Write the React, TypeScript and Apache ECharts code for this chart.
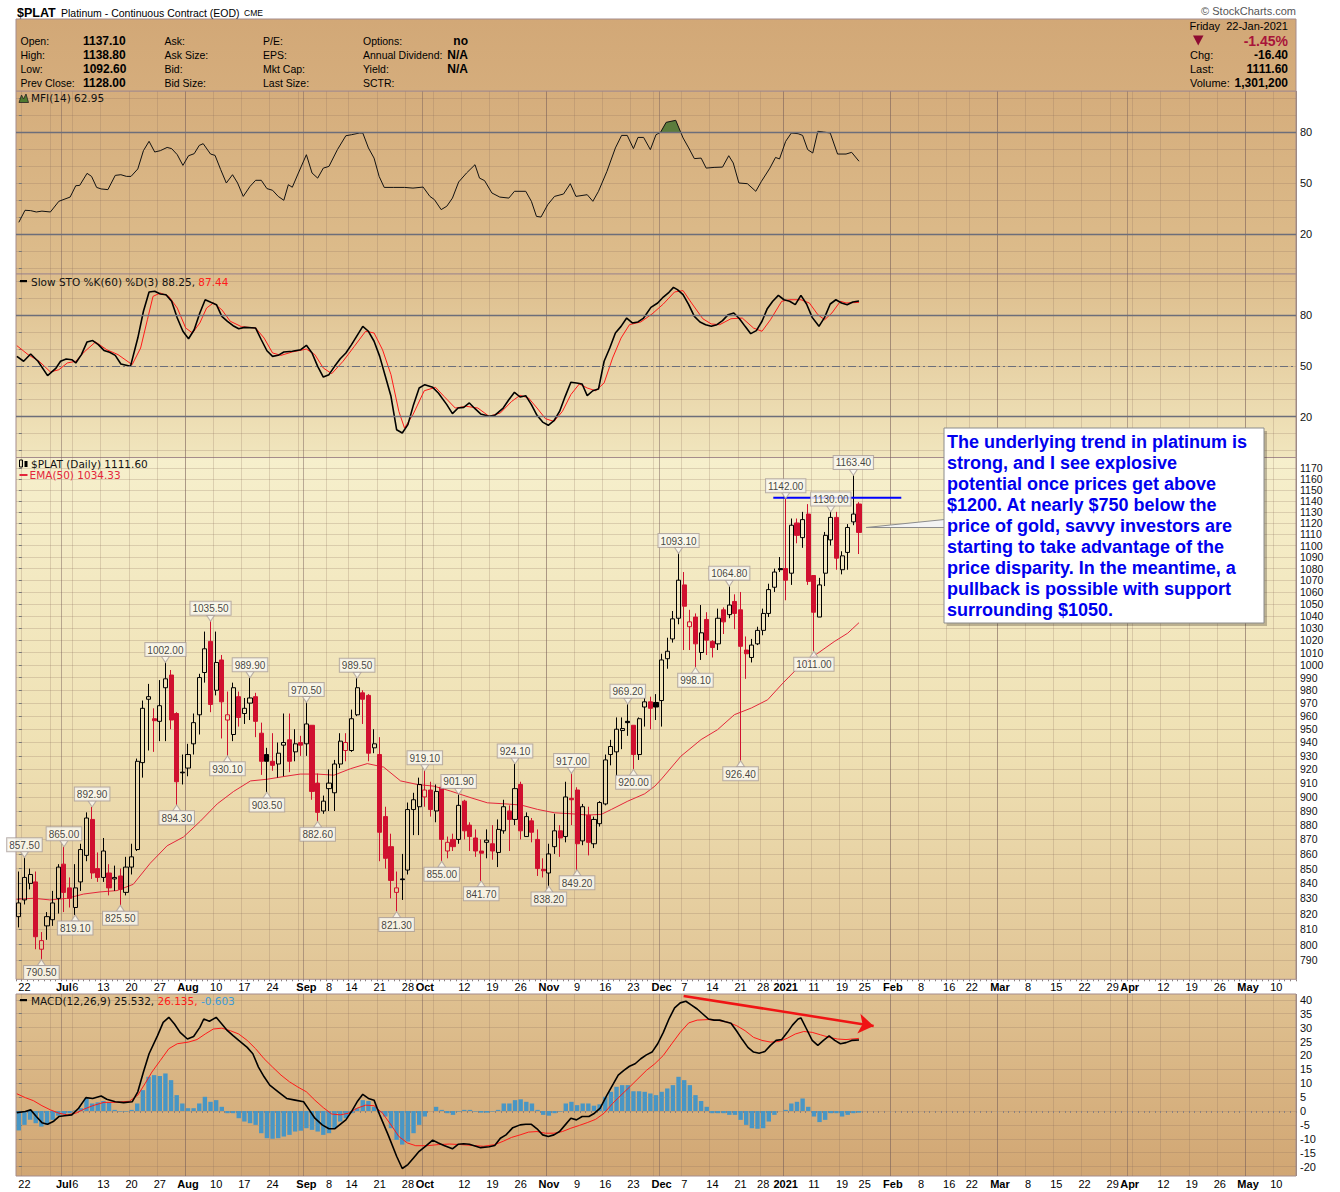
import React, { useEffect, useRef } from "react";
import * as echarts from "echarts";

// ---------- calendar ----------
const FIRST_DAY = "2020-06-19";
const SLOT_COUNT = 227;
const HOLIDAYS = ["2020-07-03", "2020-09-07", "2020-11-26", "2020-12-25", "2021-01-01", "2021-01-18", "2021-02-15", "2021-04-02"];
const SKIPPED_DAY_LABELS = ["2020-06-29", "2020-08-31", "2020-10-05", "2020-11-30", "2021-04-05"];
const MONTH_ABBR = ["Jan", "Feb", "Mar", "Apr", "May", "Jun", "Jul", "Aug", "Sep", "Oct", "Nov", "Dec"];

// ---------- price data: [open, high, low, close] ----------
const OHLC = [
  [818, 848, 811, 827], [829, 857.5, 826, 844], [840, 850, 836, 846], [841, 848, 797, 805], [797, 808, 790.5, 802.5],
  [812, 821, 803, 818], [816, 835, 812, 827], [830, 853, 820, 851], [853, 865, 821, 834], [837, 844, 824, 830],
  [824, 853, 819.1, 837], [841, 867, 835, 863], [859, 889, 855, 885], [884, 892.9, 843, 847], [850, 861, 841, 844],
  [844, 871, 841, 862], [847, 853, 832, 837], [843, 852, 835, 844], [845, 850, 825.5, 836], [834, 858, 832, 851],
  [851, 867, 846, 858], [863, 928, 862, 926], [925, 972, 914, 966], [973, 985, 934, 975], [958, 966, 933, 956.5],
  [956, 988, 941, 968], [982, 1002, 941, 989], [992, 996, 950, 957], [962, 963, 894.3, 911], [918, 931, 909, 917.5],
  [921, 939, 915, 931], [939, 962, 931, 955], [961, 993, 946, 990], [994, 1027, 986, 1013], [1019, 1035.5, 963, 969],
  [980, 1027, 976, 1002], [1004, 1008, 943, 971], [957, 979, 930.1, 961], [946, 986, 941, 982], [975, 979, 952, 959],
  [962, 974, 954, 966], [970, 989.9, 957, 974], [975, 978, 944, 956], [947, 955, 916, 926], [931, 936, 903.5, 926],
  [926, 947, 919, 923], [924, 940, 914, 932], [938, 962, 915, 940], [942, 962, 918, 926], [933, 950, 926, 939],
  [940, 945, 930, 938], [939, 970.5, 930, 954], [953, 953, 898, 904], [910, 917, 882.6, 889], [890, 901, 888, 897],
  [906, 920, 890, 910], [903, 927, 890, 924], [924, 947, 921, 941], [934, 947, 926, 940], [934, 965, 933, 958],
  [961, 989.5, 960, 982], [978, 980, 954, 973], [976, 977, 926, 932], [936, 950, 932, 939], [931, 944, 855, 875],
  [886, 893, 850, 857], [865, 874, 830, 842], [834, 848, 821.3, 837], [843, 860, 829, 842.5], [849, 896, 846, 891],
  [891, 903, 873, 898], [893, 914, 873, 909], [900, 919.1, 893, 905], [905, 911, 886, 891], [890, 909, 882, 904],
  [907, 915, 855, 870], [862, 872, 857, 868], [870, 874, 862, 865], [870, 901.9, 867, 894], [897, 898, 870, 876],
  [880, 882, 862, 872], [871, 877, 858, 862], [862, 870, 841.7, 860.5], [868, 877, 857, 869.5], [867, 880, 856, 862],
  [861, 884, 851, 877], [876, 898, 874, 893], [890, 894, 862, 884], [884, 924.1, 880, 906], [909, 911, 870, 876],
  [872, 889, 872, 886], [883, 885, 868, 875], [870, 877, 845, 850], [849.5, 857, 844, 848.5], [847, 867, 838.2, 860],
  [865, 888, 860, 876], [876, 880, 858, 871], [872, 911, 868, 900], [899, 917, 880, 898], [905, 907, 849.2, 867],
  [869, 895, 866, 893], [887, 893, 859, 868], [867, 886, 864, 884], [881, 897, 879, 896], [895, 931, 894, 927],
  [931, 942, 923, 937], [933, 959, 913, 950], [949, 959, 935, 950.5], [956, 969.2, 945, 955], [953, 953, 920, 931],
  [931, 959, 927, 958], [967, 974, 952, 971], [971, 975, 950, 966], [970.5, 977, 957, 967], [972, 1009, 952, 1004],
  [1005, 1022, 997, 1011], [1021, 1044, 1018, 1037.5], [1038, 1093.1, 1033, 1070], [1066, 1077, 1012, 1048], [1031, 1045, 1012, 1035],
  [1039, 1042, 998.1, 1017], [1010, 1049, 1004, 1026], [1037, 1043, 1008, 1020], [1019, 1020, 1006, 1014], [1017, 1046, 1012, 1038],
  [1045, 1047, 1025, 1035], [1041, 1064.8, 1038, 1049], [1052, 1058, 1029, 1042], [1045, 1060, 926.4, 1015], [1012, 1023, 989, 1009],
  [1006, 1021, 1002, 1016], [1017, 1031, 1016, 1028], [1028, 1046, 1024, 1042], [1042, 1067, 1039, 1062], [1064, 1080, 1060, 1077],
  [1080, 1090, 1077, 1079], [1080, 1142, 1053, 1070], [1076, 1124, 1066, 1118], [1120, 1124, 1102, 1109], [1107, 1130, 1098, 1123],
  [1128, 1137, 1066, 1069], [1074, 1074, 1011, 1043], [1039, 1072, 1039, 1066], [1076, 1112, 1065, 1109], [1105, 1130, 1100, 1125],
  [1125, 1130, 1079, 1089], [1079, 1095, 1075, 1091], [1094, 1119, 1079, 1116], [1121, 1163.4, 1118, 1128], [1137.1, 1138.8, 1092.6, 1111.6],
];

const HIGH_LABEL_BARS = [1, 8, 13, 26, 34, 41, 51, 60, 72, 78, 88, 98, 108, 117, 126, 136, 144, 148];
const LOW_LABEL_BARS = [4, 10, 18, 28, 37, 44, 53, 67, 75, 82, 94, 99, 109, 120, 128, 141];

// EMA(50): [bar position, value]
const EMA_PTS = [
  [-0.4, 829.4], [2.6, 830.1], [5.5, 829], [8.5, 830], [11.5, 832.9], [14.4, 834.3], [17.4, 835.2], [20.3, 839.4],
  [23.3, 853.6], [26.3, 865.6], [29.2, 871.7], [32.2, 882.8], [35.2, 895.1], [38.1, 904], [41.1, 911.6], [44, 912.8],
  [47, 914.8], [49.9, 916.6], [52.9, 916.6], [55.9, 915.8], [58.8, 920.5], [61.8, 924.3], [64.7, 921.7], [67.7, 911.6],
  [70.7, 909], [73.6, 907.8], [76.6, 904.2], [80.2, 899.4], [83.1, 895.8], [86.1, 895.1], [89.1, 894.2], [92, 891.1],
  [95, 888.7], [98, 888], [100.9, 887.1], [103.3, 887.6], [105.1, 891.1], [108, 897], [111, 902.3], [112.8, 907.8],
  [114, 913.1], [117.4, 929.7], [121, 942.2], [123.9, 949.6], [126.9, 961.1], [129.9, 966.2], [132.8, 972.6], [135.5, 985.6],
  [138.7, 1000.1], [141.7, 1009.4], [144.6, 1018.8], [147, 1025.7], [149, 1034.33],
];
const RESISTANCE = { level: 1142.8, from: 133.8, to: 156.5 };

// MFI(14)
const MFI_PTS = [
  [0, 26.9], [1.1, 34], [2.1, 33.8], [3.1, 33], [4.1, 33.5], [5.6, 33], [7.1, 39.3], [9.1, 41.8], [10.1, 48.5], [10.8, 48.7],
  [12.1, 55.8], [12.9, 54], [13.8, 47.5], [14.6, 46.6], [15.8, 46.2], [17.1, 54.6], [18.1, 55], [19.1, 54], [19.9, 54], [21.1, 58.4],
  [22.1, 69.2], [23.1, 74.7], [24.1, 68.4], [25.1, 69.2], [26.3, 71.1], [27.1, 70.4], [28.1, 66.8], [29.1, 60.5], [30.1, 66.2], [31.1, 67.4],
  [32, 72.3], [32.7, 73.3], [34, 67.2], [34.8, 66.4], [35.8, 58], [36.8, 50.1], [37.9, 55], [38.8, 50.1], [39.8, 42.2], [41, 48.1],
  [42, 51.7], [43, 51.7], [44, 46.8], [45, 45.8], [46, 42.2], [47, 39.9], [47.8, 49.1], [48.5, 47.6], [49.5, 55.4], [51, 66.8],
  [52, 56], [53, 53], [54, 58.9], [55, 59.9], [56.5, 69.8], [58, 78], [59, 78.6], [60.4, 79.6], [61, 79.6], [62, 70.8],
  [63, 64.8], [63.9, 54], [64.8, 47.5], [66.4, 47.5], [68.4, 47.5], [69.9, 47.1], [71.7, 47.7], [72.9, 42.2], [73.7, 40.3], [74.9, 34.4],
  [75.9, 36.4], [76.9, 41.2], [78, 50.7], [79.4, 56], [80.9, 60.9], [81.7, 53], [82.6, 51.5], [83.9, 44.2], [85.3, 41.8], [86.9, 41.2],
  [87.9, 45.2], [89.9, 45.2], [90.9, 39.3], [91.8, 30.4], [92.6, 30], [93.8, 37.3], [95, 42.2], [96.6, 43.6], [97.8, 49.7], [98.8, 42.2],
  [100.8, 43.2], [101.8, 39.3], [102.8, 45.2], [104.3, 57], [105.8, 70.8], [106.9, 78.2], [107.9, 78.2], [109, 70.4], [109.8, 77], [110.8, 77],
  [112, 69.8], [113, 78.6], [113.8, 80], [114.8, 85.9], [116.5, 87.1], [117.8, 76.7], [118.8, 70.8], [119.8, 64.5], [121, 64.8], [121.9, 58.9],
  [123.3, 59.3], [124.8, 59.5], [125.9, 66.2], [126.7, 61.9], [127.7, 50.1], [129.2, 49.7], [130.7, 45.2], [131.7, 51.1], [133.2, 58.9], [134.2, 65.2],
  [134.9, 64.3], [136, 74.7], [137, 79.6], [138.2, 79.2], [139, 78.2], [139.9, 69.8], [140.8, 67.8], [141.7, 80.6], [142.7, 80.2], [143.9, 79.6],
  [145.2, 67.2], [146.7, 67.2], [147.7, 68.2], [149, 62.95],
];

// Slow STO %K(60) and %D(3)
const STO_K_PTS = [
  [-0.35, 55.6], [0.85, 52.7], [2.1, 57], [3.4, 52.7], [5.1, 44.2], [6.6, 48.7], [7.4, 52.7], [8.4, 54], [9.4, 53.6], [10.1, 51.7],
  [11.1, 56.6], [12.1, 64.1], [13.1, 64.9], [14.1, 62.5], [15.1, 59.1], [16.1, 58], [17.1, 56.2], [18.1, 51.1], [19.8, 49.7], [21.1, 66.4],
  [22.1, 82.2], [23.1, 93.6], [24.1, 94], [25.1, 92.4], [26.1, 92], [27.1, 88.1], [28.1, 78.2], [29.1, 70.4], [30.1, 66], [31.1, 71.3],
  [32.1, 81.2], [33.05, 89], [34.05, 87.5], [35.05, 86.1], [36, 79.2], [37, 76.3], [38, 73.7], [39, 71.9], [40, 72.7], [42, 72.3],
  [43, 65.4], [44, 58.9], [45, 55.6], [46, 56.2], [47, 58.2], [48.5, 58.6], [50, 59.5], [51, 62.1], [52, 57.6], [53, 49.7],
  [54, 43.4], [55, 44.8], [56, 49.7], [57, 54.2], [58, 57.6], [59, 62.5], [61, 73.3], [62, 70.4], [63, 64.5], [64, 55.6],
  [65, 43.8], [66, 32], [67, 12.3], [68, 10.4], [69, 15.3], [70, 27.1], [71, 36.9], [72, 38.9], [73.4, 37.3], [74.4, 34],
  [75.9, 27.1], [76.9, 21.8], [77.9, 25.1], [78.9, 25.5], [79.9, 28.1], [80.9, 24.7], [81.9, 21.6], [83.4, 20.2], [84.4, 20.8], [85.9, 25.1],
  [86.9, 30], [87.9, 34.4], [88.9, 31.6], [89.9, 32.4], [90.9, 27.1], [91.9, 20.8], [92.9, 16.8], [93.9, 14.9], [94.9, 17.6], [95.9, 23.1],
  [96.9, 32], [97.9, 40.3], [98.9, 39.9], [99.9, 39.3], [100.8, 32.4], [101.8, 35.3], [102.8, 36.3], [103.8, 52.7], [104.8, 60.5], [105.8, 69.4],
  [106.8, 73.3], [107.8, 78.2], [108.8, 75.3], [109.8, 75.9], [110.8, 78.2], [112.1, 84.5], [113.3, 87.1], [114.3, 90.6], [115.3, 93.4], [116.1, 96.3],
  [116.8, 95], [117.8, 92], [118.8, 86.1], [119.8, 79.2], [120.8, 75.9], [121.8, 74.3], [122.8, 73.3], [123.8, 74.3], [124.8, 76.7], [125.8, 80.2],
  [126.8, 81.2], [127.8, 77.8], [128.8, 73.3], [129.8, 69], [130.8, 70.8], [131.8, 76.3], [132.7, 83.5], [133.7, 88.1], [134.7, 91.6], [135.7, 89],
  [136.7, 88.1], [137.7, 86.1], [138.7, 91.6], [139.7, 86.5], [140.7, 78.6], [141.9, 73.3], [142.9, 78.6], [143.9, 86.5], [144.9, 89], [145.9, 87.1],
  [146.9, 86.1], [147.9, 87.7], [149, 88.25],
];
const STO_D_PTS = [
  [-0.35, 61.9], [1.65, 56.6], [3.6, 52.7], [5.6, 46.4], [7.1, 47.7], [8.6, 51.7], [10.1, 52.7], [11.6, 58.2], [13.6, 64.1], [15.6, 59.5],
  [17.6, 56.6], [20.1, 50.7], [21.6, 60.5], [22.8, 77.2], [23.8, 91], [25.1, 93], [26.6, 91], [28.1, 84.1], [29.6, 72.3], [30.8, 69.4],
  [32.1, 75.3], [33.3, 84.1], [34.5, 87.1], [36, 83.1], [37.5, 76.3], [39.5, 73.1], [42, 72.3], [43.5, 66.4], [45, 57.6], [46.5, 56.2],
  [48.5, 58.2], [51, 59.9], [52.5, 56.6], [54, 48.7], [55.5, 45.4], [57.5, 52.7], [59.5, 61.5], [61.5, 70.4], [63, 69.4], [64.5, 59.5],
  [66, 44.8], [67.4, 23.1], [68.4, 13.3], [69.9, 21.2], [71.9, 35.3], [73.9, 37.3], [75.4, 32], [77.4, 25.1], [79.4, 26.1], [81.4, 25.1],
  [83.4, 20.2], [85.4, 22.2], [87.4, 29], [88.9, 32.6], [90.4, 31], [91.9, 25.1], [93.4, 18.8], [94.9, 17.2], [96.4, 23.1], [97.9, 33],
  [99.4, 39.3], [100.8, 36.9], [102.3, 35.3], [103.8, 39.9], [105.3, 54.6], [106.8, 66.4], [108.3, 74.3], [110.3, 75.9], [112.3, 80.6], [114.3, 86.5],
  [116.3, 93.6], [117.8, 94.4], [119.3, 87.1], [121.3, 77.8], [122.8, 74.7], [124.3, 74.3], [126.3, 77.8], [128.3, 78.2], [130.3, 72.3], [131.8, 70.4],
  [133.3, 77.2], [135.3, 88.1], [136.7, 89], [138.7, 89], [140.2, 87.1], [141.7, 80.2], [142.9, 77.2], [144.2, 81.2], [145.7, 88.1], [146.7, 87.1],
  [149, 87.44],
];

// MACD(12,26,9)
const MACD_PTS = [
  [-0.35, -0.6], [1.15, -0.2], [2.1, 0.4], [3.1, -2], [4.1, -4.2], [5.1, -4.8], [6.1, -3.8], [7.1, -2], [8.1, -1.7], [9.4, -1.4],
  [10.6, 1], [11.9, 4.8], [13.1, 4.5], [14.6, 5.4], [15.6, 4.2], [17.1, 3.3], [18.6, 3], [20.1, 3.3], [21.1, 6.9], [22.1, 14],
  [23.1, 20.6], [24.6, 27.1], [25.6, 31.9], [26.6, 33.7], [27.6, 31.3], [28.6, 28.3], [29.9, 25.9], [31, 26.8], [32.1, 30.1], [32.8, 33.1],
  [33.8, 32.3], [35, 33.7], [36, 31.3], [37, 28.9], [38, 27.1], [39, 25.4], [40.5, 22.9], [41.5, 20.6], [42.5, 15.8], [43.5, 12.3],
  [44.5, 9.3], [46, 6.9], [47.5, 4.5], [49, 3.9], [50.5, 3.3], [51.5, 0.4], [52.5, -2.6], [53.8, -5], [55, -6.4], [56, -6.4],
  [57, -4.8], [58, -3.2], [59, -0.2], [60, 3.3], [61, 6], [62, 4.5], [63, 3.9], [64, -1.4], [65.5, -8.6], [67, -16.3],
  [68, -20.7], [69, -19.3], [70, -16.9], [71, -14.5], [72.1, -12.7], [73.4, -10.5], [74.4, -11.5], [75.4, -12.4], [76.9, -13.6], [77.9, -12],
  [78.9, -11.8], [79.9, -12], [80.9, -12.6], [81.9, -13.2], [83.4, -12.9], [84.4, -12.4], [85.4, -9.8], [86.4, -8.6], [87.6, -6], [88.9, -5],
  [89.9, -4.8], [90.9, -4.8], [91.9, -6.4], [92.9, -8.6], [93.9, -9.2], [94.9, -8.6], [95.9, -7.4], [96.9, -5], [97.9, -2.6], [98.9, -3.2],
  [99.9, -2], [101.1, -2], [102.1, -0.8], [103.1, 1], [104.3, 5.7], [105.3, 9.3], [106.3, 12.9], [107.3, 14.6], [108.3, 16.1], [109.3, 17],
  [110.3, 18.8], [111.3, 20.2], [112.3, 21.2], [113.3, 24.2], [114.3, 28.3], [115.3, 33.1], [116.3, 37.1], [117.3, 38.9], [118.3, 39.5], [119.3, 38.1],
  [120.3, 36.7], [121.3, 34.9], [122.3, 33.1], [123.3, 32.7], [124.3, 32.7], [125.3, 32.1], [126.3, 31.6], [127.3, 28.8], [128.3, 25.7], [129.3, 22.9],
  [130.3, 21.2], [131.3, 20.8], [132.3, 21.4], [133.3, 23.6], [134.3, 25.4], [135.3, 25.7], [136.3, 28.3], [137.2, 30.9], [138.2, 33.1], [138.7, 33.5],
  [139.7, 29.5], [140.7, 25.4], [141.7, 23.6], [142.7, 25.4], [143.7, 27], [144.7, 25.4], [145.7, 24.2], [146.7, 24.6], [147.7, 25.4], [149, 25.53],
];
const SIGNAL_PTS = [
  [-0.35, 6.2], [1.15, 4.8], [2.6, 3.7], [4.1, 1.9], [5.6, 0.4], [7.1, -0.8], [8.6, -1.4], [10.1, -0.8], [11.6, 0.7], [13.1, 1.9],
  [15.1, 3.1], [17.1, 3.1], [19.6, 3.5], [21.1, 5.7], [22.4, 9.9], [23.6, 14], [25.1, 18.2], [26.6, 22.4], [28.1, 24.2], [30.1, 24.8],
  [31.6, 25.7], [33.05, 27.7], [34.5, 29.5], [36, 29.8], [37.5, 28.9], [39, 27.7], [40.5, 25.4], [42, 22.4], [43.5, 18.8], [45, 15.8],
  [46.5, 12.9], [48, 10.5], [49.5, 8.6], [51, 6.9], [52.5, 3.9], [54, 1.2], [55.5, -1.1], [57, -1.4], [58.5, -0.8], [60, 1],
  [61.5, 2.1], [63, 1.9], [64.5, -0.8], [66, -5], [67.4, -9.2], [68.9, -11.5], [70.4, -12.5], [72.4, -12.5], [74.4, -12.1], [76.4, -11.9],
  [78.4, -12.1], [80.4, -12.4], [82.4, -12.7], [84.4, -12.1], [85.9, -10.9], [87.4, -9.5], [88.9, -8.6], [90.4, -7.6], [91.9, -7.4], [93.4, -8],
  [94.9, -8], [96.4, -7.4], [97.9, -6.2], [99.4, -5.2], [100.8, -4.2], [102.3, -3], [103.8, -0.8], [105.3, 2.7], [106.8, 5.7], [108.3, 8.6],
  [109.8, 11.6], [111.3, 14.6], [112.8, 17], [114.3, 20], [115.8, 24.2], [117.3, 28.3], [118.8, 31.7], [120.3, 32.7], [122.3, 32.9], [124.3, 32.5],
  [125.8, 31.9], [127.3, 30.7], [128.8, 28.9], [130.3, 26.5], [131.8, 25.4], [133.3, 24.8], [134.8, 25], [136.3, 26.2], [137.7, 27.7], [139.2, 28.6],
  [140.7, 28.3], [142.2, 27.4], [143.7, 26.5], [145.2, 25.9], [146.7, 25.7], [149, 26.135],
];
const HIST = [
  -7, -5, -3.2, -4.4, -5.6, -5, -3.2, -1.7, -1.2, -0.8,
  0.2, 1, 4.5, 2.7, 3.1, 3.6, 3.1, 0.4, -0.2, -0.2,
  0.4, 2.7, 7.5, 12.3, 12.9, 12.6, 13.5, 11.1, 5.7, 2.7,
  1, 1, 2.7, 5.1, 3.3, 3.9, 1.5, -0.8, -0.8, -2.6,
  -3.8, -4.4, -5, -8, -9.8, -10, -9.8, -9.2, -8.6, -7.4,
  -7.1, -6.2, -6.8, -7.4, -8.6, -8, -6.2, -3.8, -2.6, -0.8,
  1, 3.9, 3.6, 1.5, -0.5, -2, -6.2, -10.4, -12.1, -11,
  -8, -5, -2, 0, 1.5, 0.4, -0.8, -1.4, -0.2, 0.4,
  0.4, -0.2, -0.6, -0.6, -0.2, 0.4, 2.7, 2.7, 3.9, 4.2,
  3.3, 2.7, 0.4, -1.4, -1.7, -0.8, -0.2, 2.7, 3.3, 2.1,
  2.7, 2.7, 1.9, 2.4, 5.1, 6.9, 8.7, 9.3, 9.3, 7.1,
  7.1, 6.9, 6.3, 5.7, 6.9, 8.1, 9.3, 12.3, 11.1, 9.3,
  5.7, 3.6, 1.5, -0.8, -0.8, -0.8, -1.4, -1.4, -3.2, -5,
  -6.2, -6.4, -6.2, -3.8, -1.4, 0, 0.4, 2.7, 3.3, 4.5,
  1.5, -2, -4, -3.2, -0.8, -0.8, -2, -1.4, -0.8, -0.603,
];
const MACD_ARROW = { from: [117.9, 41.4], to: [151.6, 30.6] };

// ---------- tick labels ----------
const PRICE_TICKS = [790, 800, 810, 820, 830, 840, 850, 860, 870, 880, 890, 900, 910, 920, 930, 940, 950, 960, 970, 980, 990,
  1000, 1010, 1020, 1030, 1040, 1050, 1060, 1070, 1080, 1090, 1100, 1110, 1120, 1130, 1140, 1150, 1160, 1170];
const PRICE_TICKS_SECOND_PASS = [1160]; // drawn on an overlay axis so it is not culled next to the top label
const OSC_TICKS = [0, 10, 20, 30, 40, 50, 60, 70, 80, 90, 100];
const OSC_LABELS = [20, 50, 80];
const MACD_TICKS = [-20, -15, -10, -5, 0, 5, 10, 15, 20, 25, 30, 35, 40];

const NOTE_LINES = [
  "The underlying trend in platinum is",
  "strong, and I see explosive",
  "potential once prices get above",
  "$1200. At nearly $750 below the",
  "price of gold, savvy investors are",
  "starting to take advantage of the",
  "price disparity. In the meantime, a",
  "pullback is possible with support",
  "surrounding $1050.",
];

// ---------- helpers ----------
const SANS = '"Liberation Sans", Arial, Helvetica, sans-serif';
const LEG = '"DejaVu Sans", Verdana, sans-serif';
const RED = "#d0102f";
const BORDER = "#a58c8c";
const HGRID = "rgba(140,110,90,0.24)";
const WGRID = "rgba(140,110,90,0.24)";
const MGRID = "rgba(120,95,90,0.48)";
const DARK = "#6c6e7a";

function buildTradingDays() {
  const out = [];
  const [y, m, d] = FIRST_DAY.split("-").map(Number);
  const cur = new Date(Date.UTC(y, m - 1, d));
  while (out.length < SLOT_COUNT) {
    const wd = cur.getUTCDay();
    const s = cur.toISOString().slice(0, 10);
    if (wd !== 0 && wd !== 6 && HOLIDAYS.indexOf(s) < 0) out.push(s);
    cur.setUTCDate(cur.getUTCDate() + 1);
  }
  return out;
}
const DATES = buildTradingDays();
const wday = (s) => new Date(s + "T00:00:00Z").getUTCDay();
const IS_WEEK_START = DATES.map((s, i) => i > 0 && wday(s) < wday(DATES[i - 1]));
const IS_MONTH_START = DATES.map((s, i) => i > 0 && s.slice(5, 7) !== DATES[i - 1].slice(5, 7));

function dateLabel(i) {
  const s = DATES[i];
  if (!s) return "";
  if (IS_MONTH_START[i]) {
    const m = +s.slice(5, 7);
    return "{b|" + (m === 1 ? s.slice(0, 4) : MONTH_ABBR[m - 1]) + "}";
  }
  if (IS_WEEK_START[i] && SKIPPED_DAY_LABELS.indexOf(s) < 0) return "{n|" + String(+s.slice(8, 10)) + "}";
  return "";
}

function abovePolys(pts, th) {
  const polys = [];
  let cur = null;
  for (let k = 0; k < pts.length; k++) {
    const [x, v] = pts[k];
    if (v > th) {
      if (!cur) {
        cur = [];
        if (k > 0) {
          const [x0, v0] = pts[k - 1];
          const t = (th - v0) / (v - v0);
          cur.push([x0 + t * (x - x0), th]);
        } else cur.push([x, th]);
      }
      cur.push([x, v]);
    } else if (cur) {
      const [x0, v0] = pts[k - 1];
      const t = (th - v0) / (v - v0);
      cur.push([x0 + t * (x - x0), th]);
      polys.push(cur);
      cur = null;
    }
  }
  if (cur) {
    cur.push([pts[pts.length - 1][0], th]);
    polys.push(cur);
  }
  return polys;
}

function grad(stops) {
  return { type: "linear", x: 0, y: 0, x2: 0, y2: 1, colorStops: stops.map(([o, c]) => ({ offset: o, color: c })) };
}

function txt(x, y, text, size, o: any = {}) {
  return {
    type: "text", x, y, z: o.z || 50, silent: true,
    style: {
      text, fontSize: size, fontFamily: o.family || SANS, fontWeight: o.bold ? "bold" : "normal",
      fill: o.color || "#000", align: o.align || "left", verticalAlign: "middle", rich: o.rich,
    },
  };
}

const GRIDS = [
  { top: 91, height: 183, bg: grad([[0, "#d5ad7c"], [1, "#ddbd8c"]]) },
  { top: 274, height: 183.5, bg: grad([[0, "#ddbd8c"], [1, "#f1e6be"]]) },
  { top: 457.5, height: 521.8, bg: grad([[0, "#f6efcc"], [0.55, "#efe1b4"], [1, "#e1c596"]]) },
  { top: 994, height: 182, bg: grad([[0, "#dfc191"], [1, "#d1a673"]]) },
];

function buildOption() {
  const weekFn = (idx) => !!IS_WEEK_START[idx];
  const monthFn = (idx) => !!IS_MONTH_START[idx];
  const xAxis = [];
  GRIDS.forEach((g, gi) => {
    const labeled = gi >= 2;
    xAxis.push({
      type: "category", gridIndex: gi, data: DATES, boundaryGap: true,
      axisLine: { show: false },
      axisTick: { show: labeled, interval: 0, length: 2, lineStyle: { color: "#8a8080", width: 1 } },
      axisLabel: {
        show: labeled, interval: 0, margin: 2, formatter: (v, i) => dateLabel(i),
        rich: {
          b: { fontFamily: SANS, fontSize: 11, fontWeight: "bold", color: "#000" },
          n: { fontFamily: SANS, fontSize: 11, color: "#000" },
        },
      },
      splitLine: { show: true, interval: weekFn, lineStyle: { color: WGRID, width: 1 } },
    });
    xAxis.push({ type: "value", gridIndex: gi, min: -0.5, max: SLOT_COUNT - 0.5, show: false });
    xAxis.push({
      type: "category", gridIndex: gi, data: DATES, boundaryGap: true,
      axisLine: { show: false }, axisTick: { show: false }, axisLabel: { show: false },
      splitLine: { show: true, interval: monthFn, lineStyle: { color: MGRID, width: 1 } },
    });
  });

  const yLabel = {
    fontFamily: SANS, fontSize: 11, color: "#111", margin: 4,
    showMinLabel: true, showMaxLabel: true, hideOverlap: false,
  };
  const yTick = { show: true, length: 3, lineStyle: { color: "#777" } };
  const lnMain = PRICE_TICKS.filter((p) => PRICE_TICKS_SECOND_PASS.indexOf(p) < 0).map((p) => Math.log(p));
  const lnAll = PRICE_TICKS.map((p) => Math.log(p));
  const lnSecond = PRICE_TICKS_SECOND_PASS.map((p) => Math.log(p));
  const priceMin = Math.log(778.1);
  const priceMax = Math.log(1180.1);
  const priceFmt = (v) => String(Math.round(Math.exp(v)));
  const yAxis = [
    { type: "value", gridIndex: 0, position: "right", min: -3.6, max: 104.4, axisLine: { show: false },
      axisTick: { ...yTick, customValues: OSC_TICKS }, axisLabel: { ...yLabel, customValues: OSC_LABELS },
      splitLine: { show: true, lineStyle: { color: HGRID } } },
    { type: "value", gridIndex: 1, position: "right", min: -4.1, max: 104.2, axisLine: { show: false },
      axisTick: { ...yTick, customValues: OSC_TICKS }, axisLabel: { ...yLabel, customValues: OSC_LABELS },
      splitLine: { show: true, lineStyle: { color: HGRID } } },
    { type: "value", gridIndex: 2, position: "right", min: priceMin, max: priceMax, axisLine: { show: false },
      axisTick: { ...yTick, customValues: lnAll },
      axisLabel: { ...yLabel, fontSize: 10.5, customValues: lnMain, formatter: priceFmt },
      splitLine: { show: true, lineStyle: { color: HGRID } } },
    { type: "value", gridIndex: 3, position: "right", min: -23.4, max: 42.1, axisLine: { show: false },
      axisTick: { ...yTick, customValues: MACD_TICKS }, axisLabel: { ...yLabel, customValues: MACD_TICKS },
      splitLine: { show: true, lineStyle: { color: HGRID } } },
    { type: "value", gridIndex: 2, position: "right", min: priceMin, max: priceMax, axisLine: { show: false },
      axisTick: { show: false, customValues: lnSecond },
      axisLabel: { ...yLabel, fontSize: 10.5, customValues: lnSecond, formatter: priceFmt },
      splitLine: { show: false } },
  ];

  const candleData = OHLC.map(([o, h, l, c], i) => {
    const prevC = i > 0 ? OHLC[i - 1][3] : o;
    const up = c >= o;
    const col = up ? (c >= prevC ? "#000000" : RED) : c < prevC ? RED : "#000000";
    const fill = up ? "rgba(0,0,0,0)" : col;
    return {
      value: [Math.log(o), Math.log(c), Math.log(l), Math.log(h)],
      itemStyle: { color: fill, color0: fill, borderColor: col, borderColor0: col, borderColorDoji: col, borderWidth: 1 },
    };
  });

  const boxLabel = {
    show: true, fontFamily: SANS, fontSize: 10, color: "#111", backgroundColor: "#fbfaf3",
    borderColor: "#aa9f9b", borderWidth: 1, padding: [2, 2, 1, 2], distance: 0,
  };
  const pointerStyle = { color: "#fbfaf3", borderColor: "#aa9f9b", borderWidth: 1 };

  const mfiPolys = abovePolys(MFI_PTS, 80);
  const noLab = { show: false };

  const series = [
    {
      type: "custom", xAxisIndex: 1, yAxisIndex: 0, silent: true, z: 2,
      data: mfiPolys.map((p) => [p[0][0], 80]),
      renderItem: (params, api) => ({
        type: "polygon",
        shape: { points: mfiPolys[params.dataIndex].map((pt) => api.coord(pt)) },
        style: { fill: "#5b7c3c" },
      }),
    },
    {
      type: "line", xAxisIndex: 1, yAxisIndex: 0, data: MFI_PTS, symbol: "none", silent: true, z: 3,
      lineStyle: { color: "#111", width: 1 },
      markLine: { silent: true, symbol: "none", label: noLab, lineStyle: { color: DARK, width: 1.4, type: "solid" },
        data: [{ yAxis: 80 }, { yAxis: 20 }] },
    },
    {
      type: "line", xAxisIndex: 4, yAxisIndex: 1, data: STO_D_PTS, symbol: "none", silent: true, z: 3,
      lineStyle: { color: "#ff1a1a", width: 1 },
      markLine: { silent: true, symbol: "none", label: noLab, lineStyle: { color: DARK, width: 1.4, type: "solid" },
        data: [{ yAxis: 80 }, { yAxis: 20 }, { yAxis: 50, lineStyle: { type: [8, 3, 2, 3], width: 1.2 } }] },
    },
    {
      type: "line", xAxisIndex: 4, yAxisIndex: 1, data: STO_K_PTS, symbol: "none", silent: true, z: 4,
      lineStyle: { color: "#000", width: 1.6 },
    },
    {
      type: "candlestick", xAxisIndex: 6, yAxisIndex: 2, data: candleData, barWidth: 4.6, silent: true, z: 3,
    },
    {
      type: "line", xAxisIndex: 7, yAxisIndex: 2, data: EMA_PTS.map(([x, v]) => [x, Math.log(v)]), symbol: "none",
      silent: true, z: 2, lineStyle: { color: "#e3263b", width: 1 },
    },
    {
      type: "line", xAxisIndex: 7, yAxisIndex: 2, symbol: "none", silent: true, z: 4,
      data: [[RESISTANCE.from, Math.log(RESISTANCE.level)], [RESISTANCE.to, Math.log(RESISTANCE.level)]],
      lineStyle: { color: "#0000ff", width: 2 },
    },
    {
      type: "scatter", xAxisIndex: 6, yAxisIndex: 2, silent: true, z: 6,
      data: HIGH_LABEL_BARS.map((i) => [i, Math.log(OHLC[i][1])]),
      symbol: "triangle", symbolSize: [8, 6], symbolRotate: 180, symbolOffset: [0, -3], itemStyle: pointerStyle,
      label: { ...boxLabel, position: "top", formatter: (p) => OHLC[HIGH_LABEL_BARS[p.dataIndex]][1].toFixed(2) },
    },
    {
      type: "scatter", xAxisIndex: 6, yAxisIndex: 2, silent: true, z: 6,
      data: LOW_LABEL_BARS.map((i) => [i, Math.log(OHLC[i][2])]),
      symbol: "triangle", symbolSize: [8, 6], symbolOffset: [0, 3], itemStyle: pointerStyle,
      label: { ...boxLabel, position: "bottom", formatter: (p) => OHLC[LOW_LABEL_BARS[p.dataIndex]][2].toFixed(2) },
    },
    {
      type: "bar", xAxisIndex: 9, yAxisIndex: 3, data: HIST, barWidth: 4.4, silent: true, z: 2,
      itemStyle: { color: "#4896c5" },
    },
    {
      type: "line", xAxisIndex: 10, yAxisIndex: 3, data: SIGNAL_PTS, symbol: "none", silent: true, z: 3,
      lineStyle: { color: "#ff1a1a", width: 1 },
      markLine: {
        silent: true, symbol: ["none", "arrow"], symbolSize: 15, label: noLab,
        lineStyle: { color: "#f01414", width: 2.5, type: "solid" },
        data: [[{ coord: MACD_ARROW.from }, { coord: MACD_ARROW.to }]],
      },
    },
    {
      type: "line", xAxisIndex: 10, yAxisIndex: 3, data: MACD_PTS, symbol: "none", silent: true, z: 4,
      lineStyle: { color: "#000", width: 1.6 },
    },
  ];

  const elements: any[] = [
    // header box
    { type: "rect", z: 1, silent: true, shape: { x: 16, y: 19, width: 1280, height: 72 },
      style: { fill: grad([[0, "#d2a877"], [1, "#d5ad7c"]]), stroke: BORDER, lineWidth: 1 } },
    txt(17, 12.5, "$PLAT", 12.5, { bold: true }),
    txt(61, 12.5, "Platinum - Continuous Contract (EOD)", 10.5),
    txt(244, 13, "CME", 8.5),
    txt(1296, 11, "\u00a9 StockCharts.com", 11, { color: "#555", align: "right" }),
    txt(20.5, 41, "Open:", 10.5), txt(20.5, 55, "High:", 10.5), txt(20.5, 69, "Low:", 10.5), txt(20.5, 83, "Prev Close:", 10.5),
    txt(83, 41, "1137.10", 12, { bold: true }), txt(83, 55, "1138.80", 12, { bold: true }),
    txt(83, 69, "1092.60", 12, { bold: true }), txt(83, 83, "1128.00", 12, { bold: true }),
    txt(164.5, 41, "Ask:", 10.5), txt(164.5, 55, "Ask Size:", 10.5), txt(164.5, 69, "Bid:", 10.5), txt(164.5, 83, "Bid Size:", 10.5),
    txt(263, 41, "P/E:", 10.5), txt(263, 55, "EPS:", 10.5), txt(263, 69, "Mkt Cap:", 10.5), txt(263, 83, "Last Size:", 10.5),
    txt(363, 41, "Options:", 10.5), txt(363, 55, "Annual Dividend:", 10.5), txt(363, 69, "Yield:", 10.5), txt(363, 83, "SCTR:", 10.5),
    txt(468, 41, "no", 12, { bold: true, align: "right" }), txt(468, 55, "N/A", 12, { bold: true, align: "right" }),
    txt(468, 69, "N/A", 12, { bold: true, align: "right" }),
    txt(1288, 26, "Friday  22-Jan-2021", 11, { align: "right" }),
    { type: "polygon", z: 50, silent: true, shape: { points: [[1193, 35.5], [1203.5, 35.5], [1198.2, 45.5]] }, style: { fill: "#8e0b32" } },
    txt(1288, 41, "-1.45%", 14, { bold: true, align: "right", color: "#a8143a" }),
    txt(1190, 55, "Chg:", 11), txt(1288, 55, "-16.40", 12, { bold: true, align: "right" }),
    txt(1190, 69, "Last:", 11), txt(1288, 69, "1111.60", 12, { bold: true, align: "right" }),
    txt(1190, 83, "Volume:", 11), txt(1288, 83, "1,301,200", 12, { bold: true, align: "right" }),
    // panel legends
    { type: "polygon", z: 50, silent: true, shape: { points: [[19, 102.5], [21.5, 95], [23.5, 99], [26, 94], [28.5, 102.5]] },
      style: { fill: "#4f7a2f", stroke: "#222", lineWidth: 0.8 } },
    txt(31, 98, "MFI(14) 62.95", 10.5, { family: LEG, color: "#111" }),
    { type: "rect", z: 50, silent: true, shape: { x: 20, y: 280, width: 7, height: 2.2 }, style: { fill: "#000" } },
    txt(31, 281.5, "{k|Slow STO %K(60) %D(3) 88.25, }{r|87.44}", 10.5, { family: LEG,
      rich: { k: { fontFamily: LEG, fontSize: 10.5, fill: "#111", color: "#111" }, r: { fontFamily: LEG, fontSize: 10.5, fill: "#ff1a1a", color: "#ff1a1a" } } }),
    { type: "rect", z: 50, silent: true, shape: { x: 19.5, y: 460, width: 3, height: 7 }, style: { fill: "none", stroke: "#000", lineWidth: 1 } },
    { type: "rect", z: 50, silent: true, shape: { x: 24.5, y: 461, width: 3, height: 6 }, style: { fill: "#000" } },
    txt(31, 464, "$PLAT (Daily) 1111.60", 10.5, { family: LEG, color: "#111" }),
    { type: "rect", z: 50, silent: true, shape: { x: 19.5, y: 474, width: 8, height: 2 }, style: { fill: "#e3263b" } },
    txt(29.5, 475, "EMA(50) 1034.33", 10.5, { family: LEG, color: "#e3263b" }),
    { type: "rect", z: 50, silent: true, shape: { x: 20, y: 999, width: 7, height: 2.2 }, style: { fill: "#000" } },
    txt(31, 1000.5, "{k|MACD(12,26,9) 25.532, }{r|26.135, }{b|-0.603}", 10.5, { family: LEG,
      rich: {
        k: { fontFamily: LEG, fontSize: 10.5, fill: "#111", color: "#111" },
        r: { fontFamily: LEG, fontSize: 10.5, fill: "#ff1a1a", color: "#ff1a1a" },
        b: { fontFamily: LEG, fontSize: 10.5, fill: "#3a9ad8", color: "#3a9ad8" },
      } }),
    // callout
    { type: "rect", z: 99, silent: true, shape: { x: 947, y: 431, width: 320, height: 195 }, style: { fill: "rgba(60,50,40,0.3)" } },
    { type: "polygon", z: 100, silent: true, shape: { points: [[944.5, 519.5], [866, 527.5], [944.5, 527.5]] },
      style: { fill: "#f3f3f3", stroke: "#8c8c8c", lineWidth: 1 } },
    { type: "rect", z: 100, silent: true, shape: { x: 944, y: 428, width: 320, height: 195 },
      style: { fill: "#ffffff", stroke: "#8c8c8c", lineWidth: 1 } },
  ];
  NOTE_LINES.forEach((line, k) => {
    elements.push(txt(947, 441.7 + k * 21.04, line, 18, { bold: true, color: "#0000ee", z: 101 }));
  });

  return {
    animation: false,
    backgroundColor: "#ffffff",
    grid: GRIDS.map((g) => ({
      left: 16, top: g.top, width: 1280, height: g.height, show: true, backgroundColor: g.bg,
      borderColor: BORDER, borderWidth: 1, containLabel: false, outerBoundsMode: "none",
    })),
    xAxis, yAxis, series,
    graphic: { elements },
  };
}

export default function App() {
  const ref = useRef<HTMLDivElement>(null);
  useEffect(() => {
    if (!ref.current) return;
    const chart = echarts.init(ref.current, null, { renderer: "svg" });
    chart.setOption(buildOption());
    return () => chart.dispose();
  }, []);
  return (
    <div
      ref={ref}
      style={{ position: "absolute", left: 0, top: 0, width: 1340, height: 1192, background: "#ffffff" }}
    />
  );
}
